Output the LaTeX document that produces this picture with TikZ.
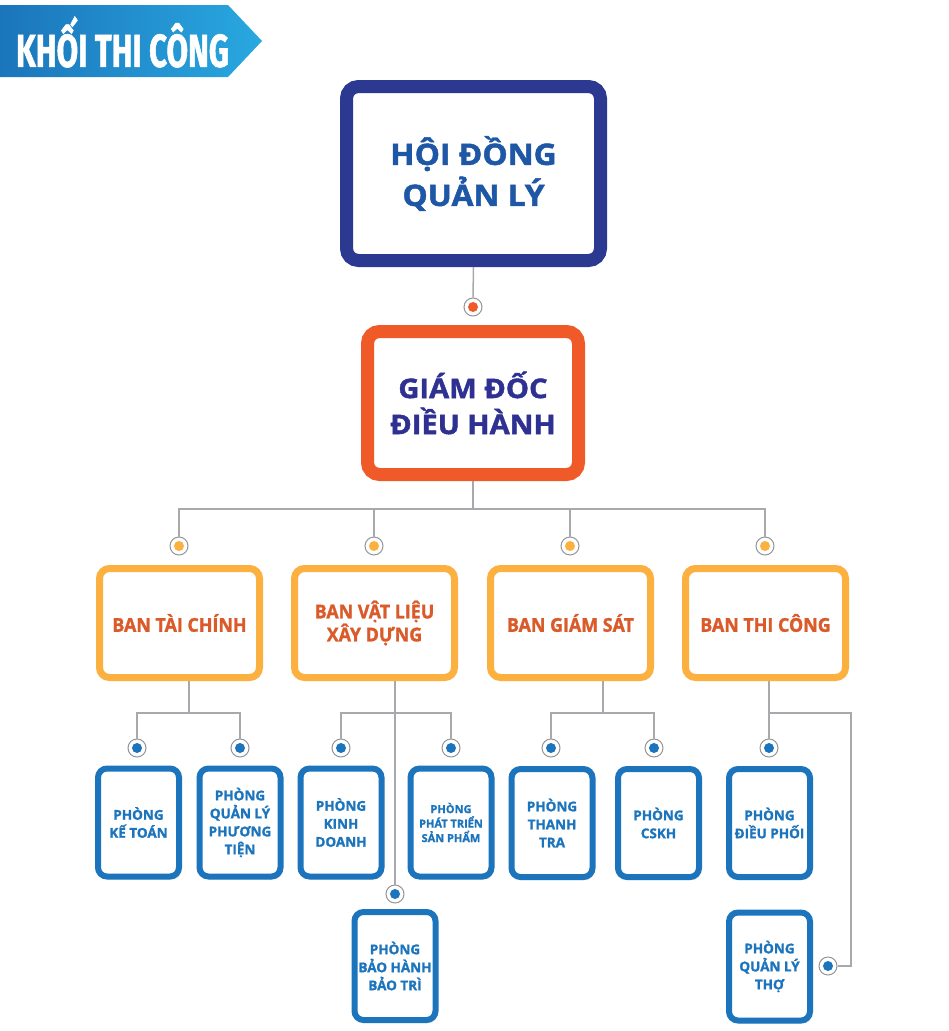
\documentclass[tikz,border=0pt]{standalone}
\usepackage{fontspec}
\setmainfont{Open Sans}[BoldFeatures={FakeBold=1.3}]
\newfontfamily\wideF{Open Sans}[BoldFeatures={FakeBold=1.6,FakeStretch=1.08}]
\newfontfamily\narrowF{Open Sans}[BoldFeatures={FakeBold=1.3,FakeStretch=0.94}]
\newfontfamily\bannerfont{Fira Sans}[BoldFeatures={FakeBold=1.5}]
\usetikzlibrary{shadows}
\definecolor{navy}{HTML}{2B3990}
\definecolor{hdqltext}{HTML}{1D57A5}
\definecolor{orangeb}{HTML}{F05A28}
\definecolor{gdtext}{HTML}{2E3192}
\definecolor{yellowb}{HTML}{FBB040}
\definecolor{yellowtext}{HTML}{DA5A2A}
\definecolor{blueb}{HTML}{1C75BC}
\definecolor{linegray}{HTML}{A7A9AC}
\definecolor{ringgray}{HTML}{939598}
\definecolor{bannerL}{HTML}{1B75BB}
\definecolor{bannerR}{HTML}{29A8E0}
\tikzset{
  boxshadow/.style={drop shadow={shadow xshift=2pt,shadow yshift=-3pt,opacity=0.10,fill=black}},
  topbox/.style={draw=navy,line width=13pt,fill=white,rounded corners=12pt,minimum width=254pt,minimum height=174pt,align=center,inner sep=0pt,boxshadow,
    font=\wideF\fontsize{29.5}{41}\selectfont\bfseries,text=hdqltext},
  gdbox/.style={draw=orangeb,line width=13pt,fill=white,rounded corners=12pt,minimum width=211pt,minimum height=143pt,align=center,inner sep=0pt,boxshadow,
    font=\wideF\fontsize{27}{36}\selectfont\bfseries,text=gdtext},
  banbox/.style={draw=yellowb,line width=7pt,fill=white,rounded corners=10pt,minimum width=160pt,minimum height=109pt,align=center,inner sep=0pt,boxshadow,
    font=\narrowF\fontsize{19}{23}\selectfont\bfseries,text=yellowtext},
  phbox/.style={draw=blueb,line width=6pt,fill=white,rounded corners=9pt,minimum width=81pt,minimum height=108pt,align=center,inner sep=0pt,boxshadow,
    font=\fontsize{13.5}{18}\selectfont\bfseries,text=blueb},
  dot/.style={circle,draw=ringgray,line width=1pt,fill=white,minimum size=18pt,inner sep=0pt,
    path picture={\fill[#1] (path picture bounding box.center) circle (5pt);}},
  conn/.style={draw=linegray,line width=1.5pt}
}
\begin{document}
\begin{tikzpicture}[x=1pt,y=-1pt]
\useasboundingbox[fill=white] (0,0) rectangle (949,1031);
% banner
\shade[left color=bannerL,right color=bannerR] (0,5) -- (228,5) -- (262,41) -- (228,77) -- (0,77) -- cycle;
\node[text=white,inner sep=0pt] (banner) at (122.5,42) {\scalebox{0.68}[1]{\bannerfont\fontsize{46}{46}\selectfont\bfseries KHỐI THI CÔNG}};
% main boxes
\node[topbox] (hdql) at (473.5,173.5) {HỘI ĐỒNG\\QUẢN LÝ};
\node[gdbox] (gd) at (473,403) {GIÁM ĐỐC\\ĐIỀU HÀNH};
\node[banbox] (y1) at (179.5,623) {BAN TÀI CHÍNH};
\node[banbox] (y2) at (374.5,623) {BAN VẬT LIỆU\\XÂY DỰNG};
\node[banbox] (y3) at (570.5,623) {BAN GIÁM SÁT};
\node[banbox] (y4) at (765.5,623) {BAN THI CÔNG};
\node[phbox] (p1) at (138.5,822.5) {PHÒNG\\KẾ TOÁN};
\node[phbox] (p2) at (240,822.5) {PHÒNG\\QUẢN LÝ\\PHƯƠNG\\TIỆN};
\node[phbox] (p3) at (341,822.5) {PHÒNG\\KINH\\DOANH};
\node[phbox,font=\fontsize{11}{14.5}\selectfont\bfseries] (p4) at (451,822.5) {PHÒNG\\PHÁT TRIỂN\\SẢN PHẨM};
\node[phbox] (p5) at (395,966) {PHÒNG\\BẢO HÀNH\\BẢO TRÌ};
\node[phbox] (p6) at (552,823) {PHÒNG\\THANH\\TRA};
\node[phbox] (p7) at (658.5,823) {PHÒNG\\CSKH};
\node[phbox] (p8) at (769.5,823) {PHÒNG\\ĐIỀU PHỐI};
\node[phbox] (p9) at (769.5,966.5) {PHÒNG\\QUẢN LÝ\\THỢ};
% dots
\node[dot=orangeb] (d0) at (473,307) {};
\node[dot=yellowb] (dy1) at (179,546) {};
\node[dot=yellowb] (dy2) at (374,546) {};
\node[dot=yellowb] (dy3) at (570,546) {};
\node[dot=yellowb] (dy4) at (765,546) {};
\node[dot=blueb] (dp1) at (137,748) {};
\node[dot=blueb] (dp2) at (240,748) {};
\node[dot=blueb] (dp3) at (341,748) {};
\node[dot=blueb] (dp4) at (451,748) {};
\node[dot=blueb] (dp5) at (395,894) {};
\node[dot=blueb] (dp6) at (551,748) {};
\node[dot=blueb] (dp7) at (654,748) {};
\node[dot=blueb] (dp8) at (769,748) {};
\node[dot=blueb] (dp9) at (828,966) {};
% bus coordinates
\coordinate (bus) at (473,509);
\coordinate (b1) at (189,713);
\coordinate (b2) at (395,713);
\coordinate (b3) at (603,713);
\coordinate (b4) at (769,713);
\coordinate (c4) at (851,966);
% connectors
\draw[conn] (hdql.south) -- (d0.north);
\draw[conn] (gd.south) -- (bus);
\draw[conn] (dy1.north) |- (bus) -| (dy4.north);
\draw[conn] (dy2.north) -- (dy2.north |- bus);
\draw[conn] (dy3.north) -- (dy3.north |- bus);
\draw[conn] (y1.south -| b1) -- (b1);
\draw[conn] (dp1.north) |- (b1) -| (dp2.north);
\draw[conn] (y2.south -| b2) -- (dp5.north);
\draw[conn] (dp3.north) |- (b2) -| (dp4.north);
\draw[conn] (y3.south -| b3) -- (b3);
\draw[conn] (dp6.north) |- (b3) -| (dp7.north);
\draw[conn] (y4.south -| b4) -- (dp8.north);
\draw[conn] (b4) -| (c4) -- (dp9.east);
\end{tikzpicture}
\end{document}
